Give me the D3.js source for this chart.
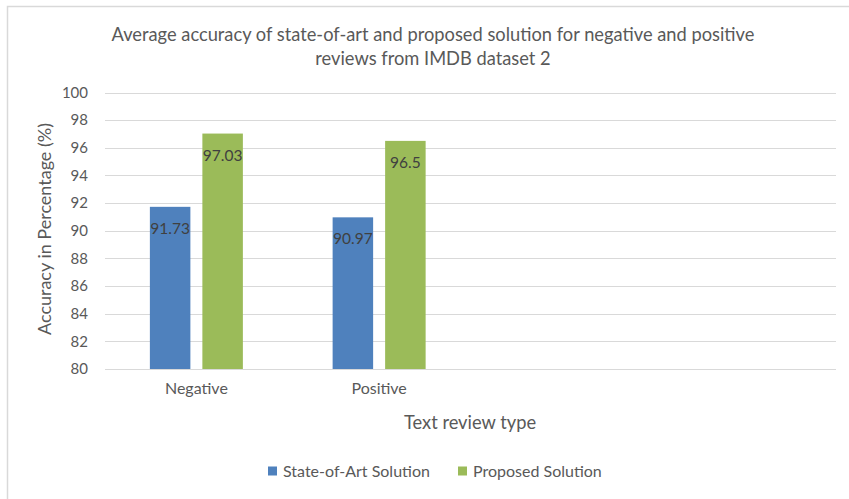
<!DOCTYPE html>
<html><head><meta charset="utf-8">
<script src="https://cdn.jsdelivr.net/npm/d3@7"></script>
<style>html,body{margin:0;padding:0;background:#fff;}svg{display:block;font-family:Lato,"Open Sans",sans-serif;}</style>
</head><body>
<svg id="c" width="849" height="499"></svg>
<script>
const categories = ["Negative", "Positive", "", ""];
const seriesNames = ["State-of-Art Solution", "Proposed Solution"];
const stateOfArt = [91.73, 90.97, null, null];
const proposed = [97.03, 96.5, null, null];
const yTicks = [80, 82, 84, 86, 88, 90, 92, 94, 96, 98, 100];
const colors = ["#4f81bd", "#9bbb59"];

(function () {
const svg = d3.select("#c");
// chart border
svg.append("rect").attr("x", 7.5).attr("y", 6.5).attr("width", 860).attr("height", 520)
  .attr("fill", "#fff").attr("stroke", "#d9d9d9").attr("stroke-width", 1.5);

const pLeft = 105, pRight = 836, pTop = 92.5, pBottom = 369;
const x = d3.scaleBand().domain(categories.map((c, i) => i)).range([pLeft, pRight]);
const y = d3.scaleLinear().domain([80, 100]).range([pBottom, pTop]);

// gridlines
svg.append("g").selectAll("line").data(yTicks).join("line")
  .attr("x1", pLeft).attr("x2", pRight)
  .attr("y1", d => Math.round(y(d)) + 0.5).attr("y2", d => Math.round(y(d)) + 0.5)
  .attr("stroke", "#d9d9d9").attr("stroke-width", 1);

// y axis labels
const yAxis = d3.axisLeft(y).tickValues(yTicks).tickSize(0).tickPadding(0);
const ya = svg.append("g").attr("transform", `translate(${pLeft - 17},0)`).call(yAxis);
ya.select(".domain").remove();
ya.selectAll("text").attr("fill", "#595959").attr("font-size", 15).attr("font-family", "Lato, sans-serif");

// x axis labels
const xAxis = d3.axisBottom(x).tickFormat(i => categories[i]).tickSize(0).tickPadding(0);
const xa = svg.append("g").attr("transform", `translate(0,${pBottom + 14})`).call(xAxis);
xa.select(".domain").remove();
xa.selectAll("text").attr("fill", "#595959").attr("font-size", 16).attr("font-family", "Lato, sans-serif");

// bars
const bw = x.bandwidth();
const barW = 40.5, gap = 12;
const series = [stateOfArt, proposed];
series.forEach((vals, s) => {
  const g = svg.append("g");
  const data = vals.map((v, i) => ({v, i})).filter(d => d.v != null);
  g.selectAll("rect").data(data).join("rect")
    .attr("x", d => x(d.i) + bw / 2 - (barW + gap / 2) + s * (barW + gap))
    .attr("width", barW)
    .attr("y", d => y(d.v))
    .attr("height", d => y(80) - y(d.v))
    .attr("fill", colors[s]);
  g.selectAll("text").data(data).join("text")
    .attr("x", d => x(d.i) + bw / 2 - (barW + gap / 2) + s * (barW + gap) + barW / 2)
    .attr("y", d => y(d.v) + 27)
    .attr("text-anchor", "middle")
    .attr("fill", "#404040").attr("font-size", 15.5)
    .text(d => d.v);
});

// title
const title = svg.append("text").attr("x", 433).attr("text-anchor", "middle")
  .attr("fill", "#595959").attr("font-size", 18.3);
title.append("tspan").attr("x", 433).attr("y", 41).text("Average accuracy of state-of-art and proposed solution for negative and positive");
title.append("tspan").attr("x", 433).attr("y", 65).text("reviews from IMDB dataset 2");

// axis titles
svg.append("text").attr("transform", `translate(51,229) rotate(-90)`)
  .attr("text-anchor", "middle").attr("fill", "#595959").attr("font-size", 18)
  .text("Accuracy in Percentage (%)");
svg.append("text").attr("x", 470).attr("y", 429).attr("text-anchor", "middle")
  .attr("fill", "#595959").attr("font-size", 18.3).text("Text review type");

// legend
const legendX = [268, 458];
seriesNames.forEach((n, i) => {
  svg.append("rect").attr("x", legendX[i]).attr("y", 466.5).attr("width", 9).attr("height", 9).attr("fill", colors[i]);
  svg.append("text").attr("x", legendX[i] + 15).attr("y", 477).attr("fill", "#595959")
    .attr("font-size", 16).text(n);
});
})();
</script>
</body></html>
